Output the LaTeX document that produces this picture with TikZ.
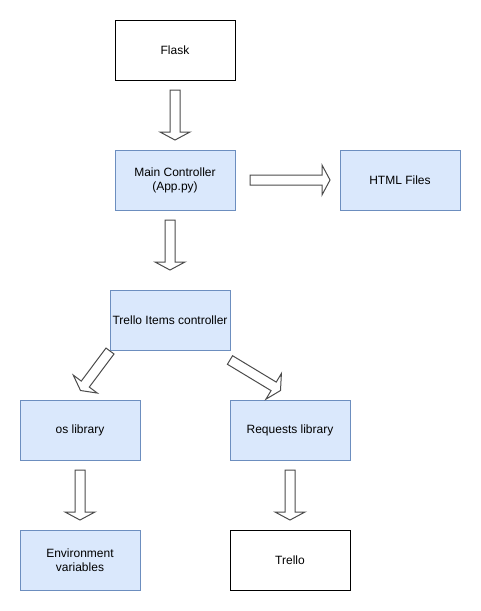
\documentclass[tikz,border=0pt]{standalone}
\usepackage{fontspec}
\setmainfont{Liberation Sans}
\usetikzlibrary{calc}
\definecolor{bfill}{HTML}{DAE8FC}
\definecolor{bline}{HTML}{6C8EBF}
\tikzset{
  box/.style={draw=black, fill=white, line width=1pt, minimum width=120pt, minimum height=60pt,
    inner sep=2pt, align=center, font=\fontsize{12}{14}\selectfont},
  bluebox/.style={box, draw=bline, fill=bfill},
  flex/.style={draw=black!70, fill=white, line width=1pt, line join=miter},
}
\newcommand\flexarrow[2]{%
  \path coordinate (fb) at ($(#2)!8pt!(#1)$);
  \draw[flex] ($(#1)!5pt!90:(#2)$) -- ($(fb)!5pt!90:(#2)$) -- ($(fb)!15pt!90:(#2)$) -- (#2)
    -- ($(fb)!15pt!-90:(#2)$) -- ($(fb)!5pt!-90:(#2)$) -- ($(#1)!5pt!-90:(#2)$) -- cycle;
}
\begin{document}
\begin{tikzpicture}[x=1pt,y=-1pt]
\useasboundingbox[fill=white] (0,0) rectangle (481,611);
\node[box] (flask) at (175,50) {Flask};
\node[bluebox] (main) at (175,180) {Main Controller\\(App.py)};
\node[bluebox] (html) at (400,180) {HTML Files};
\node[bluebox] (trello) at (170,320) {Trello Items controller};
\node[bluebox] (os) at (80,430) {os library};
\node[bluebox] (req) at (290,430) {Requests library};
\node[bluebox] (env) at (80,560) {Environment\\variables};
\node[box] (tr) at (290,560) {Trello};
% arrow end points
\coordinate (a1s) at (175,90);  \coordinate (a1e) at (175,140);
\coordinate (a2s) at (250,180); \coordinate (a2e) at (330,180);
\coordinate (a3s) at (170,220); \coordinate (a3e) at (170,270);
\coordinate (a4s) at (110,351); \coordinate (a4e) at (80.5,390.5);
\coordinate (a5s) at (230,360); \coordinate (a5e) at (280.5,390.5);
\coordinate (a6s) at (80,470);  \coordinate (a6e) at (80,520);
\coordinate (a7s) at (290,470); \coordinate (a7e) at (290,520);
\flexarrow{a1s}{a1e}
\flexarrow{a2s}{a2e}
\flexarrow{a3s}{a3e}
\flexarrow{a4s}{a4e}
\flexarrow{a5s}{a5e}
\flexarrow{a6s}{a6e}
\flexarrow{a7s}{a7e}
\end{tikzpicture}
\end{document}
